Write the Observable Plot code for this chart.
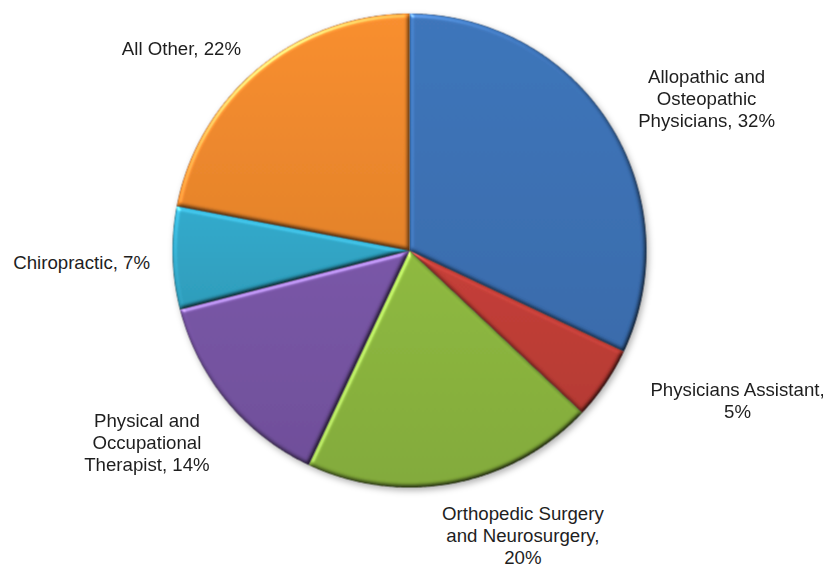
<!DOCTYPE html>
<html>
<head>
<meta charset="utf-8">
<script src="https://cdn.jsdelivr.net/npm/d3@7"></script>
<script src="https://cdn.jsdelivr.net/npm/@observablehq/plot@0.6"></script>
<style>
  html, body { margin: 0; padding: 0; background: #ffffff; }
  #chart svg { display: block; }
</style>
</head>
<body>
<div id="chart"></div>
<script>
// ---- data ----
const categories = [
  "Allopathic and Osteopathic Physicians",
  "Physicians Assistant",
  "Orthopedic Surgery and Neurosurgery",
  "Physical and Occupational Therapist",
  "Chiropractic",
  "All Other"
];
const shares = [32, 5, 20, 14, 7, 22];
const labelTexts = [
  "Allopathic and\nOsteopathic\nPhysicians, 32%",
  "Physicians Assistant,\n5%",
  "Orthopedic Surgery\nand Neurosurgery,\n20%",
  "Physical and\nOccupational\nTherapist, 14%",
  "Chiropractic, 7%",
  "All Other, 22%"
];
const colors = ["#3b71b5", "#c03c35", "#8ab43d", "#7553a2", "#2fa5c6", "#f28a2c"];
// label offsets (pixels) from the slice's outer edge at its mid-angle
const labelDx = [97, 132, 69, -80, -91, -77];
const labelDy = [-26, 16, 52, 40, 4, -20];

// ---- geometry from the data (unit circle, angle 0 at top, clockwise) ----
const arcs = d3.pie().sort(null).value(d => d)(shares);
const polyPoints = [];
arcs.forEach((a, i) => {
  polyPoints.push({category: categories[i], x: 0, y: 0});
  const n = Math.max(2, Math.ceil((a.endAngle - a.startAngle) / (Math.PI / 360)));
  for (let k = 0; k <= n; k++) {
    const t = a.startAngle + (a.endAngle - a.startAngle) * k / n;
    polyPoints.push({category: categories[i], x: Math.sin(t), y: Math.cos(t)});
  }
});
const labelData = arcs.map((a, i) => {
  const m = (a.startAngle + a.endAngle) / 2;
  return {category: categories[i], text: labelTexts[i], x: Math.sin(m), y: Math.cos(m)};
});

const textMarks = labelData.map((d, i) =>
  Plot.text([d], {
    x: "x", y: "y", text: "text",
    dx: labelDx[i], dy: labelDy[i],
    textAnchor: "middle", lineAnchor: "middle", lineHeight: 1.18,
    fontSize: 18.67, fill: "#1e1e1e"
  })
);

const svg = Plot.plot({
  width: 829,
  height: 569,
  marginLeft: 172,
  marginRight: 183,
  marginTop: 13,
  marginBottom: 82,
  style: {fontFamily: "'Liberation Sans', Arial, sans-serif", background: "#ffffff"},
  x: {domain: [-1, 1], axis: null},
  y: {domain: [-1, 1], axis: null},
  color: {domain: categories, range: colors},
  marks: [
    Plot.line(polyPoints, {
      x: "x", y: "y", z: "category", fill: "category",
      stroke: "#1a1a1a", strokeOpacity: 0.4, strokeWidth: 0.8,
      curve: "linear-closed"
    }),
    ...textMarks
  ]
});

// ---- bevel / gradient styling (Excel-like) ----
const root = d3.select(svg);
const defs = root.insert("defs", ":first-child");
colors.forEach((c, i) => {
  const g = defs.append("linearGradient").attr("id", "sliceGrad" + i)
    .attr("x1", 0).attr("y1", 0).attr("x2", 0).attr("y2", 1);
  g.append("stop").attr("offset", "0%").attr("stop-color", d3.color(c).brighter(0.05).formatHex());
  g.append("stop").attr("offset", "100%").attr("stop-color", d3.color(c).darker(0.2).formatHex());
});
const bevel = defs.append("filter").attr("id", "bevel")
  .attr("x", "-5%").attr("y", "-5%").attr("width", "110%").attr("height", "110%")
  .attr("color-interpolation-filters", "sRGB");
bevel.append("feGaussianBlur").attr("in", "SourceAlpha").attr("stdDeviation", 2.2).attr("result", "blur");
bevel.append("feDiffuseLighting").attr("in", "blur").attr("surfaceScale", 2.5)
  .attr("diffuseConstant", 1).attr("lighting-color", "#ffffff").attr("result", "diff")
  .append("feDistantLight").attr("azimuth", 235).attr("elevation", 55);
bevel.append("feComposite").attr("in", "SourceGraphic").attr("in2", "diff")
  .attr("operator", "arithmetic").attr("k1", 1.22).attr("k2", 0).attr("k3", 0).attr("k4", 0)
  .attr("result", "shaded");
bevel.append("feSpecularLighting").attr("in", "blur").attr("surfaceScale", 2.5)
  .attr("specularConstant", 0.7).attr("specularExponent", 30)
  .attr("lighting-color", "#ffffff").attr("result", "spec")
  .append("feDistantLight").attr("azimuth", 235).attr("elevation", 35);
bevel.append("feComposite").attr("in", "spec").attr("in2", "SourceAlpha")
  .attr("operator", "in").attr("result", "specIn");
bevel.append("feComposite").attr("in", "shaded").attr("in2", "specIn")
  .attr("operator", "arithmetic").attr("k1", 0).attr("k2", 1).attr("k3", 0.5).attr("k4", 0)
  .attr("result", "lit");
bevel.append("feComposite").attr("in", "lit").attr("in2", "SourceAlpha").attr("operator", "in");

const shadow = defs.append("filter").attr("id", "pieShadow")
  .attr("x", "-10%").attr("y", "-10%").attr("width", "120%").attr("height", "120%");
shadow.append("feDropShadow").attr("dx", 2).attr("dy", 3).attr("stdDeviation", 3)
  .attr("flood-color", "#000").attr("flood-opacity", 0.3);

const lineGroup = root.select("g[aria-label='line']");
lineGroup.attr("filter", "url(#pieShadow)");
lineGroup.selectAll("path").each(function () {
  const p = d3.select(this);
  const f = (p.attr("fill") || "").toLowerCase();
  const idx = colors.findIndex(c => c.toLowerCase() === f);
  if (idx >= 0) p.attr("fill", "url(#sliceGrad" + idx + ")");
  p.attr("filter", "url(#bevel)");
});

document.getElementById("chart").appendChild(svg);
</script>
</body>
</html>
